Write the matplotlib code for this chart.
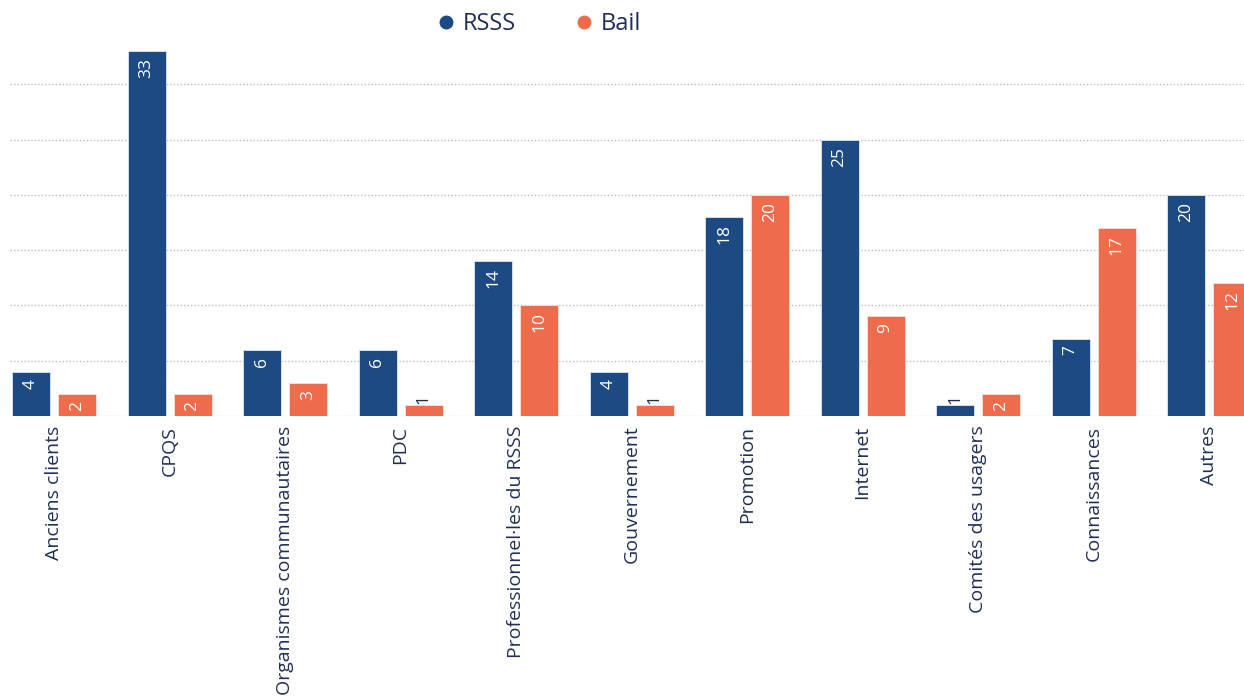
import numpy as np
import matplotlib
matplotlib.use("Agg")
import matplotlib.pyplot as plt
from matplotlib.lines import Line2D

plt.rcParams['font.family'] = ['Open Sans', 'DejaVu Sans']

categories = ["Anciens clients", "CPQS", "Organismes communautaires", "PDC",
              "Professionnel·les du RSSS", "Gouvernement", "Promotion", "Internet",
              "Comités des usagers", "Connaissances", "Autres"]
rsss = [4, 33, 6, 6, 14, 4, 18, 25, 1, 7, 20]
bail = [2, 2, 3, 1, 10, 1, 20, 9, 2, 17, 12]

navy = "#1d4a82"
orange = "#ee6b4c"
textcol = "#1f2f55"

fig = plt.figure(figsize=(12.44, 6.99), dpi=100)
ax = fig.add_axes([10/1244, (699-416)/699, 1234/1244, (416-29)/699])

step = 115.5  # px per category
x = np.arange(len(categories))
w = 38/step
off = 23/step

b1 = ax.bar(x - off, rsss, w, color=navy, edgecolor="#dfe6f0", linewidth=0.6, zorder=3)
b2 = ax.bar(x + off, bail, w, color=orange, edgecolor="#fbe3dc", linewidth=0.6, zorder=3)

for bars, vals in ((b1, rsss), (b2, bail)):
    for rect, v in zip(bars, vals):
        cx = rect.get_x() + rect.get_width()/2
        if v >= 2:
            ax.annotate(str(v), (cx, v), xytext=(0, -5), textcoords="offset points",
                        rotation=90, ha="center", va="top", color="white",
                        fontsize=12.5, zorder=4)
        else:
            ax.annotate(str(v), (cx, v), xytext=(0, 1), textcoords="offset points",
                        rotation=90, ha="center", va="bottom", color=textcol,
                        fontsize=12.5, zorder=4)

ax.set_xlim((10-54)/step, (1244-54)/step)
ax.set_ylim(0, 35)
ax.set_yticks(range(0, 31, 5))
ax.yaxis.grid(True, linestyle=(0, (1, 1.5)), color="#bdbdbd", linewidth=1, zorder=0)
ax.tick_params(axis="y", left=False, labelleft=False)
ax.set_xticks(x)
ax.set_xticklabels(categories, rotation=90, fontsize=14, color=textcol)
ax.tick_params(axis="x", length=0, pad=7)
for s in ax.spines.values():
    s.set_visible(False)

handles = [Line2D([], [], marker="o", linestyle="", color=navy, markersize=9),
           Line2D([], [], marker="o", linestyle="", color=orange, markersize=9)]
fig.legend(handles, ["RSSS", "Bail"], loc="center", bbox_to_anchor=(540/1244, 1-24/699),
           ncol=2, frameon=False, fontsize=17, handlelength=0.6, handletextpad=0.4,
           columnspacing=2.6, labelcolor=textcol)

fig.savefig("out.png", dpi=100)
